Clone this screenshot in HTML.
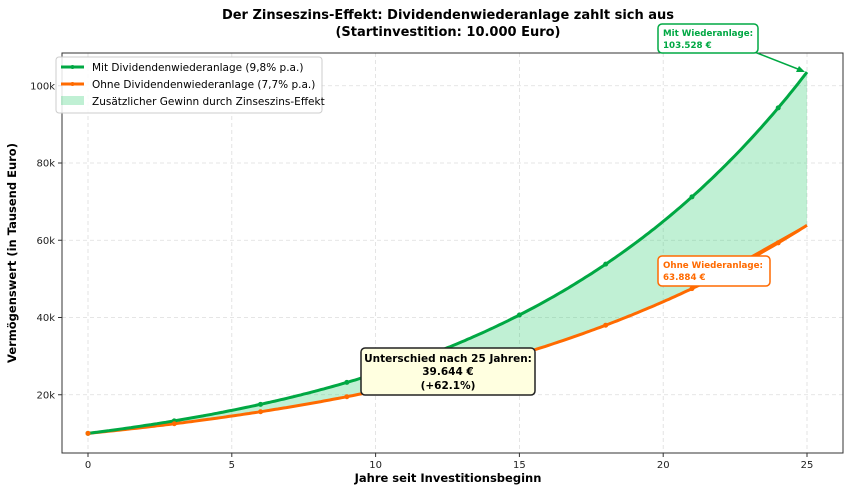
<!DOCTYPE html>
<html><head><meta charset="utf-8"><style>
body{margin:0;background:#fff;}
svg text{font-family:"DejaVu Sans","Liberation Sans",sans-serif;}
</style></head><body>
<svg id="s" width="850" height="492" xmlns="http://www.w3.org/2000/svg">
<rect width="850" height="492" fill="#fff"/>
<text x="448" y="19" text-anchor="middle" font-size="13" font-weight="bold">Der Zinseszins-Effekt: Dividendenwiederanlage zahlt sich aus</text>
<text x="448" y="36" text-anchor="middle" font-size="13" font-weight="bold">(Startinvestition: 10.000 Euro)</text>
<g id="grid" stroke="#ddd" stroke-dasharray="4,3" stroke-width="0.8"></g>
<path id="fill" fill="#2ecc71" fill-opacity="0.3"/>
<path id="og" fill="none" stroke="#ff6a00" stroke-width="3"/>
<path id="gg" fill="none" stroke="#00a843" stroke-width="3"/>
<g id="marks"></g>
<rect x="62" y="53" width="781" height="400" fill="none" stroke="#333" stroke-width="1"/>
<g id="ticks" font-size="10" fill="#222"></g>
<text x="448" y="482" text-anchor="middle" font-size="11.5" font-weight="bold">Jahre seit Investitionsbeginn</text>
<text transform="translate(16,253) rotate(-90)" text-anchor="middle" font-size="11.5" font-weight="bold">Vermögenswert (in Tausend Euro)</text>
<!-- legend -->
<rect x="56" y="57" width="266" height="56" rx="3" fill="#fff" fill-opacity="0.85" stroke="#ccc"/>
<line x1="61" y1="67" x2="84" y2="67" stroke="#00a843" stroke-width="3"/><circle cx="72.5" cy="67" r="2" fill="#00a843"/>
<text x="92" y="71" font-size="10.5">Mit Dividendenwiederanlage (9,8% p.a.)</text>
<line x1="61" y1="84" x2="84" y2="84" stroke="#ff6a00" stroke-width="3"/><circle cx="72.5" cy="84" r="2" fill="#ff6a00"/>
<text x="92" y="88" font-size="10.5">Ohne Dividendenwiederanlage (7,7% p.a.)</text>
<rect x="61" y="96" width="23" height="9" fill="#2ecc71" fill-opacity="0.3"/>
<text x="92" y="105" font-size="10.5">Zusätzlicher Gewinn durch Zinseszins-Effekt</text>
<!-- annotations -->
<line x1="757" y1="53" x2="803" y2="71" stroke="#00a843" stroke-width="1.5"/>
<polygon points="805,72 796,72 799,66" fill="#00a843"/>
<rect x="658" y="24" width="100" height="29" rx="4" fill="#fff" stroke="#00a843" stroke-width="1.5"/>
<text x="663" y="36" font-size="8.7" font-weight="bold" fill="#00a843">Mit Wiederanlage:</text>
<text x="663" y="48" font-size="8.7" font-weight="bold" fill="#00a843">103.528 €</text>
<line x1="745" y1="260" x2="805" y2="226" stroke="#ff6a00" stroke-width="1.5"/>
<line x1="700" y1="285" x2="805" y2="226" stroke="#ff6a00" stroke-width="1.5"/>
<rect x="658" y="256" width="112" height="30" rx="4" fill="#fff" stroke="#ff6a00" stroke-width="1.5"/>
<text x="663" y="268" font-size="8.7" font-weight="bold" fill="#ff6a00">Ohne Wiederanlage:</text>
<text x="663" y="280" font-size="8.7" font-weight="bold" fill="#ff6a00">63.884 €</text>
<rect x="361" y="348" width="174" height="47" rx="4" fill="#ffffe0" stroke="#222" stroke-width="1.5"/>
<text x="448" y="362" text-anchor="middle" font-size="10.5" font-weight="bold">Unterschied nach 25 Jahren:</text>
<text x="448" y="375" text-anchor="middle" font-size="10.5" font-weight="bold">39.644 €</text>
<text x="448" y="389" text-anchor="middle" font-size="10.5" font-weight="bold">(+62.1%)</text>
</svg>
<script>
const X=t=>88+t*28.76, Y=v=>472-v*3.8625/1000;
const g=t=>10000*Math.pow(1.098,t), o=t=>10000*Math.pow(1.077,t);
let pg=[],po=[];
for(let i=0;i<=250;i++){let t=i/10;pg.push(X(t).toFixed(1)+','+Y(g(t)).toFixed(1));po.push(X(t).toFixed(1)+','+Y(o(t)).toFixed(1));}
document.getElementById('gg').setAttribute('d','M'+pg.join('L'));
document.getElementById('og').setAttribute('d','M'+po.join('L'));
document.getElementById('fill').setAttribute('d','M'+pg.join('L')+'L'+po.slice().reverse().join('L')+'Z');
let m='';for(let t=0;t<=24;t+=3){m+=`<circle cx="${X(t)}" cy="${Y(g(t))}" r="2.5" fill="#00a843"/><circle cx="${X(t)}" cy="${Y(o(t))}" r="2.5" fill="#ff6a00"/>`;}
document.getElementById('marks').innerHTML=m;
let gr='',tk='';
for(let t=0;t<=25;t+=5){gr+=`<line x1="${X(t)}" y1="53" x2="${X(t)}" y2="453"/>`;tk+=`<line x1="${X(t)}" y1="453" x2="${X(t)}" y2="457" stroke="#333"/><text x="${X(t)}" y="468" text-anchor="middle">${t}</text>`;}
for(let v=20;v<=100;v+=20){let y=Y(v*1000);gr+=`<line x1="62" y1="${y}" x2="843" y2="${y}"/>`;tk+=`<line x1="58" y1="${y}" x2="62" y2="${y}" stroke="#333"/><text x="55" y="${y+3.5}" text-anchor="end">${v}k</text>`;}
document.getElementById('grid').innerHTML=gr;document.getElementById('ticks').innerHTML=tk;
</script>
</body></html>
